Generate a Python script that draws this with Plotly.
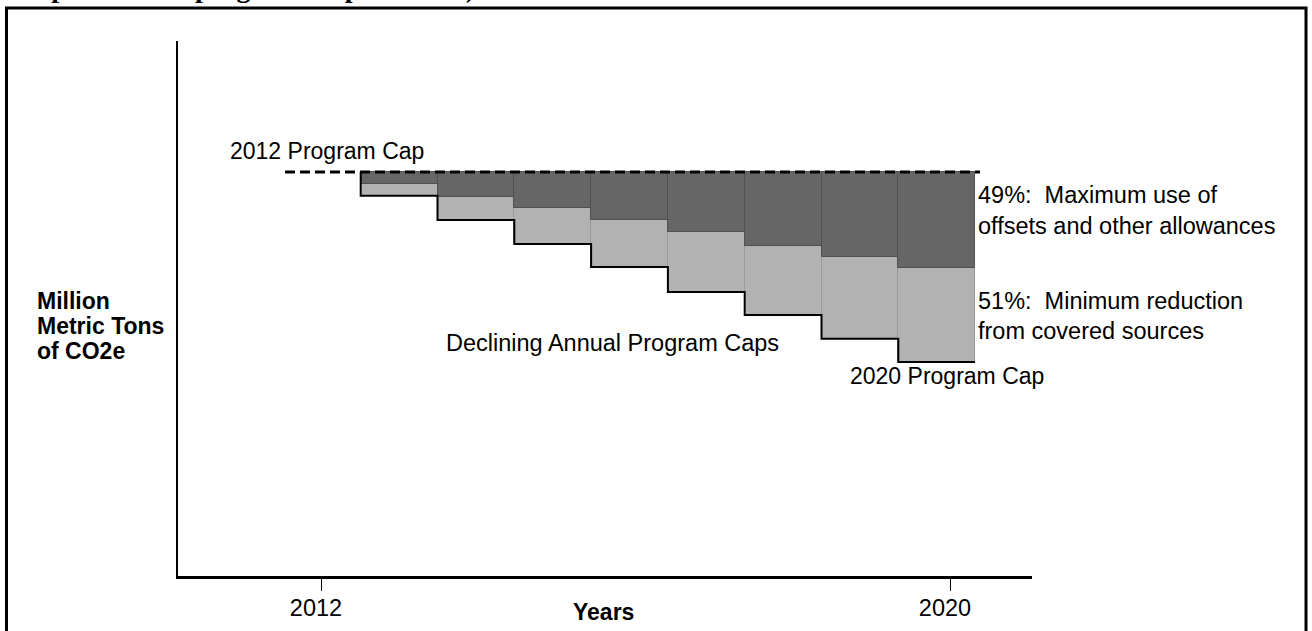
import plotly.graph_objects as go

# ---------------- data ----------------
years = [2012, 2013, 2014, 2015, 2016, 2017, 2018, 2019, 2020]
annual_cap = [100.0, 94.1, 88.1, 82.2, 76.5, 70.3, 64.6, 58.7, 53.0]      # declining annual program caps
offset_floor = [100.0, 97.0, 93.8, 91.1, 88.1, 85.1, 81.7, 79.0, 76.2]   # lower edge of max offsets share (49%)
tick_years = [2012, 2020]
tick_labels = ["2012", "2020"]

W, H = 1312, 631
L, R, T, B = 178, 1032, 41, 576   # plot area in pixels


def px_x(px):
    return (px - L) / (R - L)


def px_y(py):
    return (B - py) / (B - T)


FONT = "Liberation Sans, Arial, sans-serif"
DARK = "#666666"
LIGHT = "#b2b2b2"

bar_years = years[1:]
cap_top = annual_cap[0]

fig = go.Figure()

# empty trace so that the main (tick-bearing) x axis exists
fig.add_trace(go.Scatter(x=tick_years, y=[None, None], mode="lines",
                         xaxis="x", yaxis="y", showlegend=False, hoverinfo="skip"))

# minimum reduction (light) – from annual cap up to 2012 cap
fig.add_trace(go.Bar(
    x=bar_years,
    base=annual_cap[1:],
    y=[cap_top - c for c in annual_cap[1:]],
    width=1.0,
    marker=dict(color=LIGHT, line=dict(color="#9a9a9a", width=1)),
    xaxis="x2", yaxis="y", showlegend=False, hoverinfo="skip",
))
# maximum offsets (dark)
fig.add_trace(go.Bar(
    x=bar_years,
    base=offset_floor[1:],
    y=[cap_top - o for o in offset_floor[1:]],
    width=1.0,
    marker=dict(color=DARK, line=dict(color="#505050", width=1)),
    xaxis="x2", yaxis="y", showlegend=False, hoverinfo="skip",
))
# step line of declining caps
fig.add_trace(go.Scatter(
    x=[yr + 0.5 for yr in years],
    y=annual_cap,
    mode="lines",
    line=dict(color="black", width=2, shape="vh"),
    xaxis="x2", yaxis="y", showlegend=False, hoverinfo="skip",
))
# 2012 program cap dashed line
fig.add_trace(go.Scatter(
    x=[years[0] - 0.486, years[-1] + 0.564],
    y=[cap_top, cap_top],
    mode="lines",
    line=dict(color="black", width=3, dash="10px,5px"),
    xaxis="x2", yaxis="y", showlegend=False, hoverinfo="skip",
))

# axis ranges from pixel geometry
px_per_year = (950 - 321) / (tick_years[1] - tick_years[0])
x_range = [tick_years[0] - (321 - L) / px_per_year, tick_years[1] + (R - 950) / px_per_year]
px_per_year2 = 76.8
c2013 = 399.1
x2_range = [2013 - (c2013 - L) / px_per_year2, 2013 + (R - c2013) / px_per_year2]
px_per_unit = (B - 172) / cap_top
y_range = [0, (B - T) / px_per_unit]

fig.update_layout(
    width=W, height=H,
    margin=dict(l=L, r=W - R, t=T, b=H - B, pad=0, autoexpand=False),
    paper_bgcolor="white", plot_bgcolor="white",
    barmode="overlay", bargap=0,
    font=dict(family=FONT, color="black", size=23),
    xaxis=dict(
        range=x_range, showgrid=False, zeroline=False, automargin=False,
        showline=True, linecolor="black", linewidth=2.5,
        tickmode="array", tickvals=tick_years, ticktext=tick_labels,
        ticks="outside", ticklen=12, tickwidth=1, tickcolor="black",
        tickfont=dict(family=FONT, size=23.5, color="black"),
        ticklabelshift=-5, ticklabelstandoff=-3,
    ),
    xaxis2=dict(range=x2_range, overlaying="x", visible=False, automargin=False),
    yaxis=dict(
        range=y_range, showgrid=False, zeroline=False, automargin=False,
        showline=True, linecolor="black", linewidth=2,
        showticklabels=False, ticks="",
    ),
)

# frame around the whole picture
fig.add_shape(type="rect", xref="paper", yref="paper",
              x0=px_x(6.5), x1=px_x(1306), y0=px_y(660), y1=px_y(8),
              line=dict(color="black", width=3), fillcolor="rgba(0,0,0,0)")

annotations = [
    # (text, x_px, y_px, xanchor, size)
    ("2012 Program Cap", 228, 151, "left", 23),
    ("49%:\u00a0 Maximum use of", 976, 195, "left", 23.5),
    ("offsets and other allowances", 976, 226, "left", 23.5),
    ("51%:\u00a0 Minimum reduction", 976, 301, "left", 23.5),
    ("from covered sources", 976, 331, "left", 23.5),
    ("Declining Annual Program Caps", 444, 343, "left", 23.5),
    ("2020 Program Cap", 848, 376, "left", 23),
    ("<b>Million</b>", 35, 301, "left", 23),
    ("<b>Metric Tons</b>", 35, 326, "left", 23),
    ("<b>of CO2e</b>", 35, 351, "left", 23),
    ("<b>Years</b>", 603, 612, "center", 23),
]
for text, xp, yp, xa, size in annotations:
    fig.add_annotation(text=text, xref="paper", yref="paper",
                       x=px_x(xp), y=px_y(yp), xanchor=xa, yanchor="middle",
                       showarrow=False, font=dict(family=FONT, size=size, color="black"))

# clipped title line at top of the picture (only its lower edge shows)
fig.add_annotation(text="<b>ole parts of the program scope in 2015)</b>", xref="paper", yref="paper",
                   x=px_x(8), y=px_y(-12), xanchor="left", yanchor="middle", showarrow=False,
                   font=dict(family="Liberation Serif, Times New Roman, serif", size=28, color="black"))

fig.write_html("out.html", config={"displayModeBar": False},
               post_script="document.body.style.margin='0';")
